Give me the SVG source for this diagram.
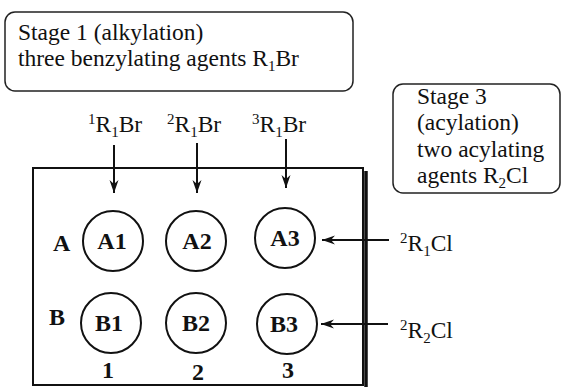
<svg xmlns="http://www.w3.org/2000/svg" width="564" height="387" viewBox="0 0 564 387">
<style>
.t{font-family:"Liberation Serif","Times New Roman",serif;font-size:23.5px;fill:#111}
.b{font-family:"Liberation Serif","Times New Roman",serif;font-size:24px;font-weight:bold;fill:#111}
.s{font-size:15px}
.box{fill:#fff;stroke:#222;stroke-width:1.5}
.c{fill:none;stroke:#111;stroke-width:2}
.ln{stroke:#111;stroke-width:2;fill:none}
</style>
<defs>
<marker id="ah" markerUnits="userSpaceOnUse" markerWidth="16" markerHeight="12" viewBox="-14 -6 16 12" refX="0" refY="0" orient="auto">
<path d="M0,0 L-13,-4.5 L-9,0 L-13,4.5 Z" fill="#111"/>
</marker>
</defs>
<g id="stage1">
<rect class="box" x="5" y="12" width="348" height="79" rx="10"/>
<text class="t" x="18" y="40">Stage 1 (alkylation)</text>
<text class="t" x="18" y="66">three benzylating agents R<tspan class="s" dy="5">1</tspan><tspan dy="-5">Br</tspan></text>
</g>
<g id="stage3">
<rect class="box" x="393" y="84" width="167" height="109" rx="10"/>
<text class="t" x="417" y="104">Stage 3</text>
<text class="t" x="417" y="130">(acylation)</text>
<text class="t" x="417" y="157">two acylating</text>
<text class="t" x="417" y="183">agents R<tspan class="s" dy="5">2</tspan><tspan dy="-5">Cl</tspan></text>
</g>
<g id="plate">
<rect x="33" y="168" width="330" height="217" fill="none" stroke="#111" stroke-width="2"/>
<line x1="366" y1="171" x2="366" y2="387" stroke="#111" stroke-width="3.5"/>
<text class="b" x="53" y="251">A</text>
<text class="b" x="49" y="325">B</text>
<text class="b" x="108" y="378" text-anchor="middle">1</text>
<text class="b" x="198" y="380" text-anchor="middle">2</text>
<text class="b" x="288" y="378" text-anchor="middle">3</text>
</g>
<g id="A1"><circle class="c" cx="113" cy="241" r="30"/><text class="b" x="112" y="249" text-anchor="middle">A1</text></g>
<g id="A2"><circle class="c" cx="196" cy="241" r="30"/><text class="b" x="197" y="249" text-anchor="middle">A2</text></g>
<g id="A3"><circle class="c" cx="285" cy="238" r="30"/><text class="b" x="285" y="246" text-anchor="middle">A3</text></g>
<g id="B1"><circle class="c" cx="111" cy="323" r="30"/><text class="b" x="109" y="331" text-anchor="middle">B1</text></g>
<g id="B2"><circle class="c" cx="196" cy="323" r="30"/><text class="b" x="196" y="331" text-anchor="middle">B2</text></g>
<g id="B3"><circle class="c" cx="287" cy="324" r="30"/><text class="b" x="284" y="332" text-anchor="middle">B3</text></g>
<g id="labels">
<text class="t" x="88" y="132"><tspan class="s" dy="-8">1</tspan><tspan dy="8">R</tspan><tspan class="s" dy="5">1</tspan><tspan dy="-5">Br</tspan></text>
<text class="t" x="167" y="132"><tspan class="s" dy="-8">2</tspan><tspan dy="8">R</tspan><tspan class="s" dy="5">1</tspan><tspan dy="-5">Br</tspan></text>
<text class="t" x="252" y="132"><tspan class="s" dy="-8">3</tspan><tspan dy="8">R</tspan><tspan class="s" dy="5">1</tspan><tspan dy="-5">Br</tspan></text>
<text class="t" x="400" y="251"><tspan class="s" dy="-8">2</tspan><tspan dy="8">R</tspan><tspan class="s" dy="5">1</tspan><tspan dy="-5">Cl</tspan></text>
<text class="t" x="400" y="338"><tspan class="s" dy="-8">2</tspan><tspan dy="8">R</tspan><tspan class="s" dy="5">2</tspan><tspan dy="-5">Cl</tspan></text>
</g>
<g id="connectors">
<line class="ln" x1="114" y1="145" x2="114" y2="193" marker-end="url(#ah)"/>
<line class="ln" x1="197" y1="143" x2="197" y2="193" marker-end="url(#ah)"/>
<line class="ln" x1="286" y1="139" x2="286" y2="188" marker-end="url(#ah)"/>
<line class="ln" x1="389" y1="240" x2="322" y2="240" marker-end="url(#ah)"/>
<line class="ln" x1="388" y1="324" x2="321" y2="324" marker-end="url(#ah)"/>
</g>
</svg>
